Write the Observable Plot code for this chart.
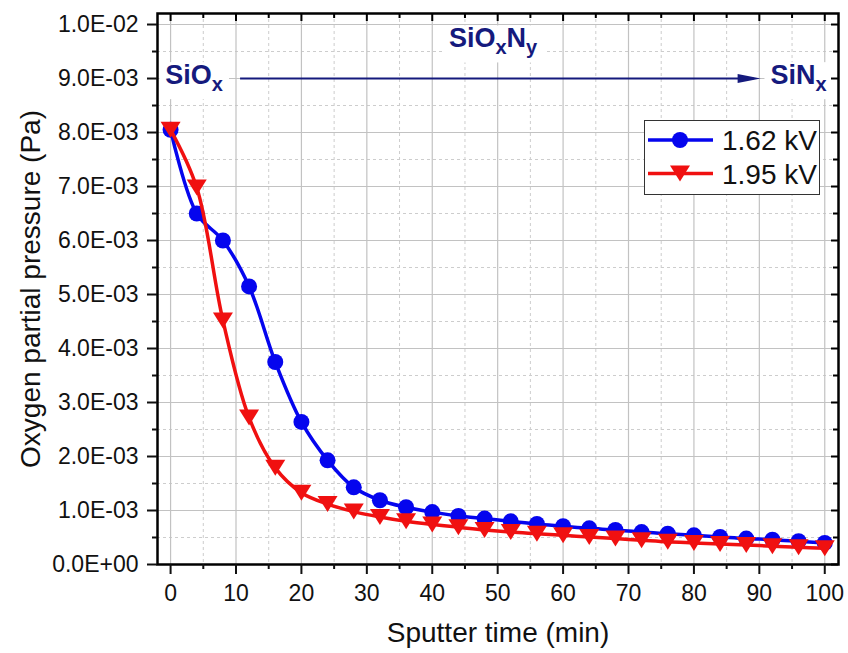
<!DOCTYPE html>
<html><head><meta charset="utf-8">
<script src="https://cdn.jsdelivr.net/npm/d3@7"></script>
<script src="https://cdn.jsdelivr.net/npm/@observablehq/plot@0.6"></script>
<style>
body{margin:0;background:#fff;}
#chart{width:848px;height:653px;}
</style></head><body><div id="chart"></div>
<script>
// ---- data (oxygen partial pressure in units of 1E-03 Pa) ----
const time = [0,4,8,12,16,20,24,28,32,36,40,44,48,52,56,60,64,68,72,76,80,84,88,92,96,100];
const p162 = [8.05,6.50,6.00,5.15,3.75,2.64,1.93,1.43,1.19,1.06,0.97,0.90,0.85,0.80,0.75,0.71,0.67,0.64,0.60,0.57,0.54,0.51,0.48,0.46,0.43,0.40];
const p195 = [8.05,6.98,4.52,2.72,1.79,1.33,1.12,0.98,0.88,0.80,0.74,0.69,0.64,0.60,0.57,0.54,0.51,0.48,0.45,0.42,0.40,0.38,0.36,0.34,0.32,0.30];
const seriesNames = ["1.62 kV", "1.95 kV"];
const seriesColors = ["#0505ee", "#f01010"];
const xMajor = [0,10,20,30,40,50,60,70,80,90,100];
const xMinor = [5,15,25,35,45,55,65,75,85,95];
const yMajor = [0,1,2,3,4,5,6,7,8,9,10].map(v => v * 1e-3);
const yMinor = [0.5,1.5,2.5,3.5,4.5,5.5,6.5,7.5,8.5,9.5].map(v => v * 1e-3);
// annotation (phase sequence) in data coordinates
const annLabels = ["SiO_x", "SiO_xN_y", "SiN_x"];
const annX = [-0.8, 49.3, 91.7];
const annY = [0.009, 0.00968, 0.009];
const annAnchor = ["start", "middle", "start"];
const arrowX = [10.7, 90.2];
const arrowY = 0.009;

const navy = "#151a7d";
const W = 848, H = 653, ML = 157, MR = 10, MT = 13, MB = 89;
const frameW = W - ML - MR, frameH = H - MT - MB;
const fontFam = "'Liberation Sans', Arial, Helvetica, sans-serif";

const fmtE = v => {
  const [m, e] = v.toExponential(1).split("e");
  const n = +e;
  return m + "E" + (n < 0 ? "-" : "+") + String(Math.abs(n)).padStart(2, "0");
};

const downTri = {draw(ctx){ ctx.moveTo(-10,-8); ctx.lineTo(10,-8); ctx.lineTo(0,8); ctx.closePath(); }};
const arrowHead = {draw(ctx){ ctx.moveTo(0,0); ctx.lineTo(-23,-4.5); ctx.lineTo(-23,4.5); ctx.closePath(); }};
const ann = annLabels.map((t, i) => ({t, x: annX[i], y: annY[i], a: annAnchor[i]}));

const plot = Plot.plot({
  width: W, height: H,
  marginLeft: ML, marginRight: MR, marginTop: MT, marginBottom: MB,
  x: {domain: [-2, 102.1]},
  y: {domain: [0, 0.010204]},
  style: {fontFamily: fontFam, color: "#111", background: "#fff"},
  marks: [
    // grid
    Plot.ruleX(xMinor, {stroke: "#cdcdcd", strokeDasharray: "3,3", strokeWidth: 1}),
    Plot.ruleY(yMinor, {stroke: "#cdcdcd", strokeDasharray: "3,3", strokeWidth: 1}),
    Plot.ruleX(xMajor, {stroke: "#c2c2c2", strokeWidth: 1.2}),
    Plot.ruleY(yMajor, {stroke: "#c2c2c2", strokeWidth: 1.2}),
    // annotations
    Plot.text(ann.filter(d => d.a === "start"), {x: "x", y: "y", text: "t", textAnchor: "start", fontSize: 27, fontWeight: "bold", fill: navy, dy: -3}),
    Plot.text(ann.filter(d => d.a === "middle"), {x: "x", y: "y", text: "t", textAnchor: "middle", fontSize: 27, fontWeight: "bold", fill: navy, dy: -3}),
    Plot.ruleY([arrowY], {x1: arrowX[0], x2: arrowX[1] - 1, stroke: navy, strokeWidth: 2.2}),
    Plot.dot([arrowX[1]], {x: d => d, y: () => arrowY, symbol: arrowHead, r: 5, fill: navy}),
    // series
    Plot.line(time, {x: d => d, y: (d, i) => p162[i] * 1e-3, stroke: seriesColors[0], strokeWidth: 3.5, curve: "catmull-rom"}),
    Plot.dot(time, {x: d => d, y: (d, i) => p162[i] * 1e-3, r: 8, fill: seriesColors[0]}),
    Plot.line(time, {x: d => d, y: (d, i) => p195[i] * 1e-3, stroke: seriesColors[1], strokeWidth: 3.5, curve: "catmull-rom"}),
    Plot.dot(time, {x: d => d, y: (d, i) => p195[i] * 1e-3, r: 8, symbol: downTri, fill: seriesColors[1]}),
    // inner ticks (top and right)
    Plot.ruleX(xMajor, {insetBottom: frameH - 8, stroke: "#000", strokeWidth: 2}),
    Plot.ruleX(xMinor, {insetBottom: frameH - 5, stroke: "#000", strokeWidth: 2}),
    Plot.ruleY(yMajor, {insetLeft: frameW - 7, stroke: "#000", strokeWidth: 2}),
    Plot.ruleY(yMinor, {insetLeft: frameW - 5, stroke: "#000", strokeWidth: 2}),
    Plot.frame({stroke: "#000", strokeWidth: 2.5}),
    // axes
    Plot.axisX(xMajor, {anchor: "bottom", tickSize: 10, tickPadding: 10, fontSize: 23, tickFormat: d => String(d), label: null, strokeWidth: 2}),
    Plot.axisX(xMinor, {anchor: "bottom", tickSize: 5, tickFormat: () => "", label: null, strokeWidth: 2}),
    Plot.axisY(yMajor, {anchor: "left", tickSize: 10, tickPadding: 9, fontSize: 23, tickFormat: fmtE, label: null, strokeWidth: 2}),
    Plot.axisY(yMinor, {anchor: "left", tickSize: 5, tickFormat: () => "", label: null, strokeWidth: 2}),
    Plot.text(["Oxygen partial pressure (Pa)"], {frameAnchor: "left", dx: -126, rotate: -90, textAnchor: "middle", lineAnchor: "middle", fontSize: 28, fill: "#111"}),
    Plot.text(["Sputter time (min)"], {frameAnchor: "bottom", dy: 69, textAnchor: "middle", lineAnchor: "middle", fontSize: 28, fill: "#111"})
  ]
});
document.getElementById("chart").appendChild(plot);

// subscripts + white boxes behind annotations
const svg = d3.select(plot);
svg.selectAll("text").filter(function(){ return this.textContent.includes("_"); }).each(function(){
  const el = d3.select(this);
  const s = this.textContent;
  el.text(null);
  const parts = s.split(/(_\w)/).filter(p => p.length);
  let lowered = false;
  parts.forEach(p => {
    if (p.startsWith("_")) {
      el.append("tspan").attr("font-size", 20).attr("dy", lowered ? 0 : 7).text(p.slice(1));
      lowered = true;
    } else {
      el.append("tspan").attr("dy", lowered ? -7 : 0).text(p);
      lowered = false;
    }
  });
  const b = this.getBBox();
  const pad = 6;
  const r = d3.select(this.parentNode).insert("rect", () => this)
    .attr("x", b.x - pad).attr("y", b.y + 2).attr("width", b.width + 2 * pad).attr("height", b.height + 2)
    .attr("fill", "#fff");
  if (this.getAttribute("transform")) r.attr("transform", this.getAttribute("transform"));
});

// legend (inside plot, upper right)
const lg = svg.append("g").attr("font-family", fontFam).attr("text-anchor", "start");
lg.append("rect").attr("x", 644.5).attr("y", 120.5).attr("width", 175).attr("height", 74)
  .attr("fill", "#fff").attr("stroke", "#333").attr("stroke-width", 1);
const legSyms = [d3.symbolCircle, downTri];
seriesNames.forEach((name, i) => {
  const cy = 140 + i * 33.5;
  lg.append("line").attr("x1", 648).attr("x2", 713).attr("y1", cy).attr("y2", cy)
    .attr("stroke", seriesColors[i]).attr("stroke-width", 3.5);
  lg.append("path").attr("transform", `translate(680,${cy})`)
    .attr("d", d3.symbol(legSyms[i], Math.PI * 64)()).attr("fill", seriesColors[i]);
  lg.append("text").attr("x", 722).attr("y", cy + 10).attr("text-anchor", "start")
    .attr("font-size", 28).attr("fill", "#111").text(name);
});
</script>
</body></html>
